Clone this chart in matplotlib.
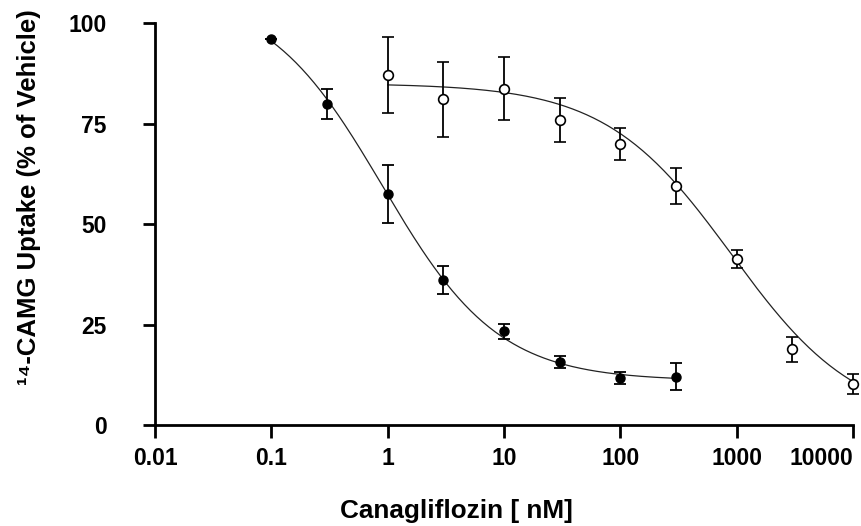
# Canagliflozin inhibition of 14C-AMG uptake
# two concentration-response series with 4-parameter logistic fit curves

import matplotlib.pyplot as plt
import numpy as np

plt.rcParams['font.family'] = ['Liberation Sans', 'DejaVu Sans']
plt.rcParams['font.weight'] = 'bold'

# filled circles
conc_a = [0.1, 0.3, 1, 3, 10, 30, 100, 300]
mean_a = [96.0, 79.8, 57.5, 36.1, 23.3, 15.7, 11.8, 12.0]
err_a = [0.0, 3.7, 7.3, 3.5, 1.8, 1.4, 1.5, 3.4]

# open circles
conc_b = [1, 3, 10, 30, 100, 300, 1000, 3000, 10000]
mean_b = [87.1, 81.0, 83.7, 75.9, 69.9, 59.5, 41.3, 18.8, 10.1]
err_b = [9.5, 9.4, 7.8, 5.5, 4.0, 4.5, 2.3, 3.0, 2.5]

# fit parameters (top, bottom, IC50, hill)
fit_a = (108.0, 11.0, 0.9, 0.87)
fit_b = (85.0, 0.0, 900.0, 0.8)

x_ticks = [0.01, 0.1, 1, 10, 100, 1000, 10000]
x_ticklabels = ['0.01', '0.1', '1', '10', '100', '1000', '10000']
y_ticks = [0, 25, 50, 75, 100]


def logistic(x, top, bottom, ic50, hill):
    return bottom + (top - bottom) / (1 + (x / ic50) ** hill)


fig = plt.figure(figsize=(8.62, 5.26), dpi=100)
ax = fig.add_axes([0.18, 0.192, 0.8096, 0.764])

xa = np.logspace(np.log10(conc_a[0]), np.log10(conc_a[-1]), 200)
xb = np.logspace(np.log10(conc_b[0]), np.log10(conc_b[-1]), 200)
ax.plot(xa, logistic(xa, *fit_a), color='#222222', lw=0.9)
ax.plot(xb, logistic(xb, *fit_b), color='#222222', lw=0.9)

ax.errorbar(conc_a, mean_a, yerr=err_a, fmt='o', color='black', ms=6.5,
            ecolor='black', elinewidth=1.3, capsize=4.5, capthick=1.3,
            clip_on=False)
ax.errorbar(conc_b, mean_b, yerr=err_b, fmt='o', color='black', mfc='white',
            mec='black', mew=1.2, ms=7, ecolor='black', elinewidth=1.3,
            capsize=4.5, capthick=1.3, clip_on=False)

ax.set_xscale('log')
ax.set_xlim(0.01, 10000)
ax.set_ylim(0, 100)
ax.set_xticks(x_ticks)
ax.set_xticklabels(x_ticklabels)
ax.minorticks_off()
ax.set_yticks(y_ticks)

for side in ['top', 'right']:
    ax.spines[side].set_visible(False)
for side in ['left', 'bottom']:
    ax.spines[side].set_linewidth(2)

ax.tick_params(axis='both', direction='out', length=9, width=2, labelsize=16.5)
ax.tick_params(axis='y', pad=26)
ax.tick_params(axis='x', pad=7)

# last x tick label sits at the figure edge, keep it inside
ax.get_xticklabels()[-1].set_horizontalalignment('right')

ax.set_xlabel('Canagliflozin [ nM]', fontsize=18.8, fontweight='bold')
ax.xaxis.set_label_coords(0.431, -0.183)
ax.set_ylabel('¹⁴-CAMG Uptake (% of Vehicle)', fontsize=18.5, fontweight='bold')
ax.yaxis.set_label_coords(-0.163, 0.567)

fig.savefig('out.png', dpi=100)
